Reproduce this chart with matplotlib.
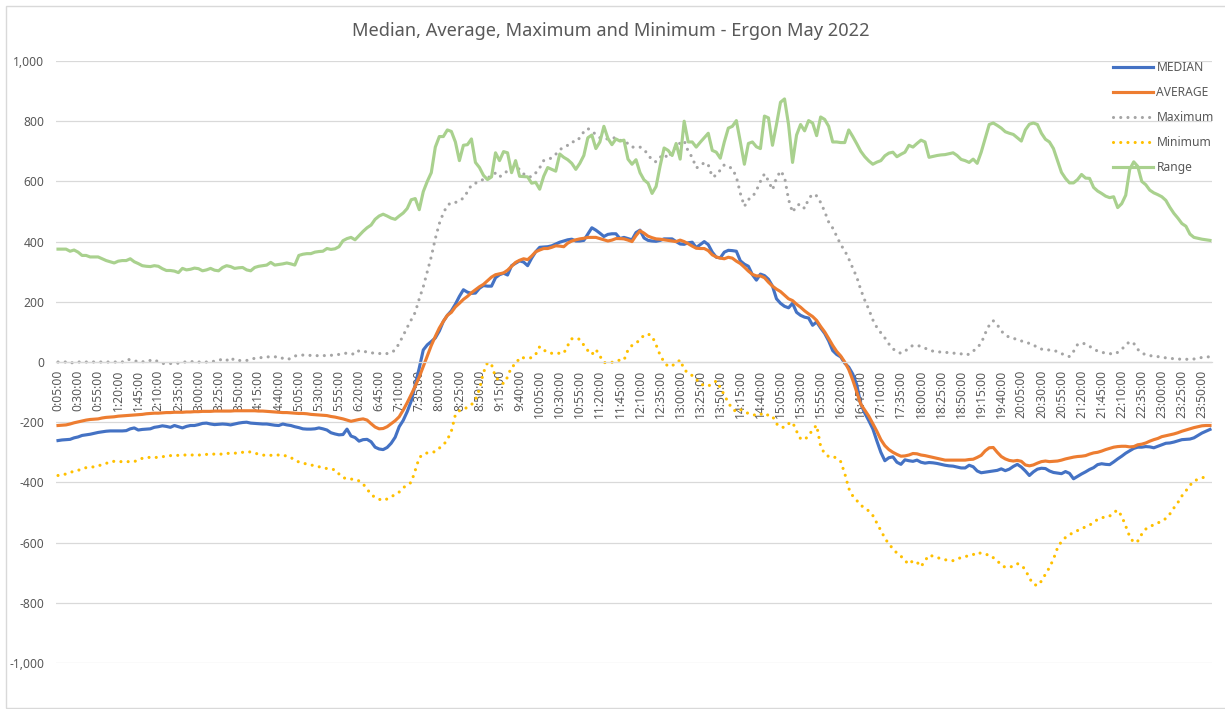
import matplotlib
matplotlib.use('agg')
import matplotlib.pyplot as plt  # noqa
from matplotlib.patches import Rectangle
from matplotlib.ticker import FuncFormatter

plt.rcParams['font.family'] = ['Noto Sans', 'DejaVu Sans']

"""
--- DATA (5 minute intervals, 0:05 through midnight)
"""
times = []
for k in range(1, 289):
    m = (k * 5) % 1440
    times.append('%d:%02d:00' % (m // 60, m % 60))

median = [
    -261, -259, -258, -257, -252, -249, -244, -242, -240, -237,
    -234, -232, -230, -229, -229, -229, -229, -228, -222, -219,
    -226, -224, -223, -222, -217, -215, -212, -214, -217, -211,
    -215, -219, -214, -211, -211, -208, -204, -203, -206, -208,
    -207, -206, -207, -209, -206, -203, -201, -200, -203, -204,
    -205, -206, -206, -208, -210, -211, -206, -209, -211, -215,
    -218, -222, -223, -223, -222, -219, -222, -226, -235, -239,
    -242, -241, -223, -246, -251, -263, -258, -257, -265, -283,
    -289, -291, -284, -270, -250, -215, -194, -165, -130, -75,
    -20, 40, 57, 68, 80, 103, 135, 155, 170, 192,
    218, 240, 232, 228, 229, 245, 254, 252, 252, 280,
    290, 295, 289, 320, 328, 336, 332, 320, 345, 366,
    381, 382, 383, 386, 392, 398, 402, 406, 408, 402,
    402, 404, 425, 446, 438, 428, 417, 424, 426, 426,
    410, 414, 410, 406, 430, 438, 412, 404, 402, 401,
    404, 409, 409, 409, 400, 392, 391, 396, 398, 380,
    390, 400, 390, 365, 348, 346, 365, 371, 370, 368,
    336, 325, 318, 290, 272, 292, 287, 275, 252, 210,
    195, 185, 180, 195, 165, 155, 149, 146, 122, 133,
    113, 95, 70, 38, 25, 17, -4, -17, -40, -75,
    -140, -170, -195, -222, -262, -300, -328, -318, -315, -333,
    -340, -325, -328, -330, -326, -333, -336, -334, -335, -337,
    -340, -343, -345, -346, -349, -352, -352, -343, -348, -362,
    -368, -366, -364, -362, -360, -355, -361, -356, -347, -340,
    -349, -362, -377, -365, -356, -353, -354, -362, -367, -369,
    -371, -364, -370, -388, -380, -372, -365, -357, -351, -341,
    -338, -340, -341, -332, -322, -313, -303, -295, -287, -283,
    -283, -281, -282, -285, -280, -275, -270, -269, -266, -262,
    -258, -257, -256, -252, -244, -236, -230, -224,
]

average = [
    -211, -210, -209, -206, -202, -199, -196, -193, -191, -190,
    -189, -186, -184, -183, -182, -180, -179, -178, -177, -176,
    -175, -174, -172, -171, -170, -170, -169, -168, -168, -167,
    -167, -167, -166, -166, -165, -165, -164, -164, -164, -163,
    -163, -163, -163, -163, -162, -162, -162, -162, -162, -162,
    -163, -163, -164, -165, -166, -167, -168, -168, -169, -170,
    -171, -171, -172, -174, -175, -176, -177, -178, -181, -183,
    -186, -189, -193, -197, -194, -191, -189, -193, -205, -216,
    -222, -221, -215, -205, -195, -182, -160, -135, -108, -80,
    -50, -15, 20, 55, 85, 113, 135, 155, 165, 183,
    195, 208, 218, 230, 240, 250, 258, 270, 282, 290,
    293, 296, 305, 318, 331, 338, 343, 340, 352, 366,
    372, 377, 377, 381, 386, 385, 383, 395, 402, 406,
    409, 411, 414, 414, 414, 410, 406, 402, 405, 410,
    410, 409, 405, 400, 420, 436, 428, 418, 413, 409,
    408, 406, 404, 402, 400, 405, 400, 393, 385, 378,
    377, 377, 370, 356, 349, 345, 343, 348, 345, 335,
    327, 315, 302, 291, 286, 286, 280, 265, 252, 242,
    234, 222, 210, 204, 192, 182, 170, 160, 151, 138,
    118, 100, 78, 55, 35, 20, 0, -25, -60, -100,
    -140, -160, -180, -205, -230, -258, -278, -291, -300, -307,
    -313, -312, -309, -304, -305, -309, -311, -314, -317, -320,
    -323, -326, -326, -326, -326, -326, -326, -324, -323, -317,
    -310, -295, -285, -284, -300, -314, -322, -327, -329, -327,
    -330, -342, -345, -342, -336, -331, -329, -331, -330, -329,
    -326, -322, -319, -316, -314, -313, -311, -306, -302, -300,
    -296, -291, -287, -283, -281, -280, -280, -282, -281, -275,
    -273, -269, -263, -258, -254, -248, -245, -242, -239, -235,
    -230, -226, -222, -218, -215, -212, -211, -211,
]

maximum = [
    0, 0, 0, -5, 0, 0, 0, 0, 0, 0,
    0, 0, 0, 0, 0, 0, 0, 8, 8, 5,
    0, 0, 5, 5, 8, 0, -5, -5, -5, -5,
    -4, 0, 0, 0, 3, 0, 0, 0, 0, 3,
    5, 10, 5, 15, 5, 5, 5, 5, 10, 12,
    14, 15, 17, 17, 17, 18, 12, 8, 12, 20,
    22, 23, 22, 22, 20, 22, 22, 20, 22, 25,
    25, 27, 30, 28, 25, 38, 36, 33, 30, 30,
    28, 29, 28, 31, 40, 62, 88, 115, 140, 165,
    210, 250, 300, 350, 410, 460, 495, 520, 530, 530,
    535, 545, 565, 588, 594, 600, 607, 612, 618, 628,
    615, 625, 635, 642, 648, 640, 625, 616, 615, 628,
    645, 669, 673, 678, 690, 705, 714, 720, 732, 731,
    745, 765, 776, 765, 757, 745, 742, 741, 744, 745,
    737, 732, 726, 714, 714, 714, 705, 690, 670, 665,
    680, 690, 677, 700, 714, 728, 735, 700, 680, 645,
    650, 663, 655, 615, 620, 638, 655, 650, 642, 615,
    560, 517, 540, 548, 570, 600, 625, 602, 572, 610,
    635, 615, 540, 497, 520, 525, 510, 542, 558, 552,
    530, 500, 465, 445, 418, 390, 370, 343, 312, 282,
    240, 205, 175, 140, 115, 97, 80, 60, 44, 34,
    29, 35, 48, 55, 55, 52, 46, 40, 36, 34,
    33, 32, 31, 29, 30, 27, 23, 26, 36, 48,
    62, 95, 122, 137, 124, 103, 90, 82, 79, 74,
    70, 65, 62, 57, 48, 43, 40, 40, 38, 35,
    28, 22, 18, 35, 58, 63, 60, 52, 44, 36,
    32, 30, 28, 26, 32, 42, 56, 68, 62, 42,
    30, 24, 21, 20, 18, 15, 14, 12, 11, 10,
    9, 9, 9, 10, 13, 15, 17, 17,
]

minimum = [
    -377, -375, -372, -367, -363, -360, -355, -351, -350, -348,
    -345, -341, -337, -331, -330, -331, -331, -331, -331, -331,
    -325, -320, -317, -317, -317, -317, -315, -312, -311, -311,
    -310, -309, -309, -309, -309, -309, -309, -307, -306, -306,
    -306, -306, -304, -303, -303, -302, -300, -298, -299, -303,
    -306, -309, -311, -310, -309, -309, -309, -313, -317, -327,
    -332, -336, -339, -342, -345, -348, -351, -354, -356, -358,
    -372, -384, -388, -389, -390, -395, -405, -422, -440, -450,
    -456, -460, -455, -448, -440, -432, -418, -408, -400, -360,
    -318, -306, -302, -300, -298, -286, -276, -258, -230, -175,
    -162, -158, -150, -142, -125, -90, -35, -2, -8, -50,
    -63, -72, -50, -15, -9, 15, 14, 14, 14, 25,
    51, 40, 32, 29, 29, 29, 29, 55, 77, 80,
    75, 56, 38, 25, 42, 20, -2, -2, -1, 4,
    6, 6, 40, 55, 62, 75, 89, 93, 86, 57,
    23, 0, -15, -12, -5, 7, -25, -37, -45, -57,
    -72, -78, -80, -72, -63, -85, -110, -135, -156, -165,
    -158, -165, -171, -175, -177, -172, -180, -175, -180, -205,
    -217, -217, -205, -200, -230, -255, -258, -245, -225, -210,
    -280, -305, -314, -313, -320, -331, -370, -420, -445, -460,
    -476, -485, -495, -510, -535, -560, -585, -605, -620, -635,
    -645, -660, -672, -660, -665, -680, -660, -642, -645, -649,
    -654, -657, -659, -660, -654, -650, -646, -644, -640, -632,
    -636, -640, -640, -650, -660, -675, -682, -682, -678, -670,
    -675, -690, -718, -738, -743, -728, -705, -683, -655, -618,
    -596, -583, -574, -566, -560, -553, -548, -542, -533, -523,
    -518, -514, -512, -500, -492, -512, -545, -580, -600, -595,
    -572, -555, -548, -540, -535, -528, -520, -505, -485, -467,
    -445, -428, -410, -395, -390, -385, -381, -377,
]

range_vals = [
    375, 375, 375, 368, 372, 365, 354, 354, 349, 349,
    349, 343, 337, 333, 329, 335, 337, 337, 343, 333,
    327, 320, 318, 317, 320, 318, 310, 304, 304, 302,
    297, 311, 306, 308, 312, 310, 303, 306, 311, 305,
    303, 314, 320, 317, 311, 313, 314, 306, 303, 314,
    318, 320, 322, 331, 322, 324, 326, 329, 326, 322,
    354, 358, 360, 360, 365, 367, 368, 377, 374, 376,
    383, 403, 410, 414, 406, 420, 434, 446, 455, 474,
    485, 491, 485, 478, 474, 485, 495, 510, 539, 543,
    506, 566, 600, 629, 714, 749, 749, 771, 766, 731,
    669, 720, 722, 741, 663, 646, 620, 606, 615, 695,
    669, 699, 695, 629, 669, 617, 616, 615, 594, 597,
    574, 617, 646, 640, 634, 691, 680, 672, 660, 640,
    660, 686, 745, 754, 709, 731, 783, 743, 722, 741,
    734, 737, 674, 657, 672, 629, 605, 594, 560, 583,
    651, 711, 703, 686, 726, 674, 800, 731, 731, 714,
    730, 745, 760, 703, 697, 677, 731, 777, 783, 802,
    731, 657, 726, 731, 715, 709, 817, 811, 720, 789,
    863, 874, 789, 663, 754, 789, 768, 802, 794, 752,
    814, 806, 783, 731, 731, 729, 729, 771, 749, 725,
    700, 682, 668, 657, 664, 669, 685, 694, 697, 682,
    690, 697, 720, 714, 726, 737, 731, 680, 683, 686,
    688, 689, 692, 695, 686, 673, 669, 663, 674, 660,
    697, 743, 789, 794, 786, 777, 765, 760, 756, 745,
    734, 771, 790, 794, 789, 760, 740, 731, 709, 669,
    630, 610, 595, 595, 606, 623, 611, 610, 580, 568,
    560, 551, 546, 549, 513, 526, 554, 640, 665, 650,
    600, 589, 571, 562, 556, 549, 537, 514, 494, 478,
    460, 451, 425, 414, 411, 408, 406, 404,
]

for s in (median, average, maximum, minimum, range_vals):
    assert len(s) == len(times), len(s)

"""
--- PLOT
"""
W, H = 1225, 709
text_col = '#595959'
grid_col = '#D9D9D9'

fig = plt.figure(figsize=(W / 100, H / 100), dpi=100)
ax = fig.add_axes([56 / W, 1 - 663 / H, (1212 - 56) / W, (663 - 61) / H])

# category axis crosses at zero (set before ticks, it resets them)
for side in ('left', 'right', 'top'):
    ax.spines[side].set_visible(False)
ax.spines['bottom'].set_position(('data', 0))
ax.spines['bottom'].set_color(grid_col)
ax.spines['bottom'].set_linewidth(0.9)

x = list(range(len(times)))
dot = (0, (0.01, 2.3))

ax.plot(x, median, color='#4472C4', lw=2.25, label='MEDIAN',
        solid_joinstyle='round')
ax.plot(x, average, color='#ED7D31', lw=2.25, label='AVERAGE',
        solid_joinstyle='round')
ax.plot(x, maximum, color='#A5A5A5', lw=2.25, ls=dot, dash_capstyle='round',
        label='Maximum')
ax.plot(x, minimum, color='#FFC000', lw=2.25, ls=dot, dash_capstyle='round',
        label='Minimum')
ax.plot(x, range_vals, color='#A9D18E', lw=2.25, label='Range',
        solid_joinstyle='round')

ax.set_xlim(-0.5, len(times) - 0.5)
ax.set_ylim(-1000, 1000)
ax.set_yticks(range(-1000, 1001, 200))
ax.yaxis.set_major_formatter(FuncFormatter(lambda v, p: '{:,.0f}'.format(v)))
ax.set_xticks(x[::5])
ax.set_xticklabels(times[::5])

ax.grid(axis='y', color=grid_col, lw=0.9)
ax.set_axisbelow(True)

ax.tick_params(axis='y', length=0, pad=8.5, labelsize=8.7, labelcolor=text_col)
ax.tick_params(axis='x', length=0, pad=5.5, labelsize=8.7, labelcolor=text_col,
               labelrotation=90)

leg = ax.legend(loc='upper left', bbox_to_anchor=(1113 / W, 1 - 61 / H),
                bbox_transform=fig.transFigure, frameon=False, fontsize=8.7,
                borderpad=0, borderaxespad=0, handlelength=3.3,
                handletextpad=0.3, labelspacing=1.0)
for t in leg.get_texts():
    t.set_color(text_col)

fig.text(611 / W, 1 - 31 / H,
         'Median, Average, Maximum and Minimum - Ergon May 2022',
         ha='center', va='center', fontsize=13.1, color=text_col)

# chart area border
fig.patches.append(Rectangle((6 / W, 1.5 / H), 1.2, (703.5 - 1.5) / H,
                             transform=fig.transFigure, fill=False,
                             edgecolor=grid_col, lw=1))

fig.savefig('out.png', dpi=100)
